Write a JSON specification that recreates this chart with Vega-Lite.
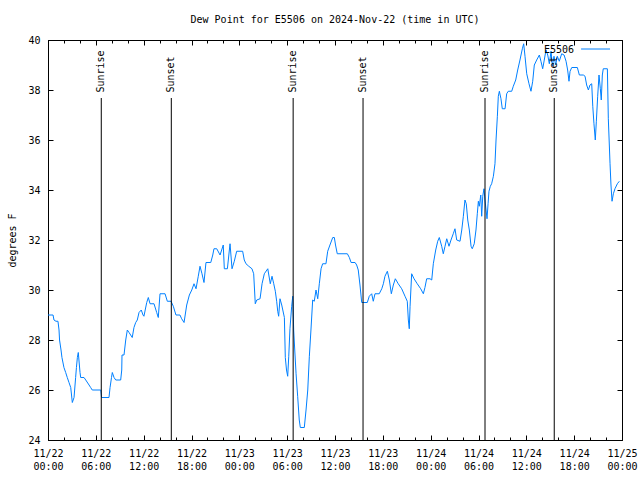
{
  "$schema": "https://vega.github.io/schema/vega-lite/v6.json",
  "width": 574,
  "height": 400,
  "autosize": "none",
  "padding": {"left": 48, "top": 40, "right": 18, "bottom": 40},
  "background": "white",
  "title": {"text": "Dew Point for E5506 on 2024-Nov-22 (time in UTC)", "font": "DejaVu Sans Mono", "fontSize": 10, "fontWeight": "normal", "color": "black", "offset": 10, "anchor": "middle"},
  "config": {
    "view": {"stroke": "black", "strokeWidth": 1},
    "axis": {"domainColor": "black", "domainWidth": 1, "tickColor": "black", "tickWidth": 1, "labelColor": "black", "labelFont": "DejaVu Sans Mono", "labelFontSize": 10, "titleFont": "DejaVu Sans Mono", "titleFontSize": 10, "titleFontWeight": "normal", "titleColor": "black", "grid": false}
  },
  "datasets": {
    "dew": [
      {"time": "2024-11-22T00:00:00Z", "dewpoint": 29.0},
      {"time": "2024-11-22T00:38:00Z", "dewpoint": 29.0},
      {"time": "2024-11-22T00:45:00Z", "dewpoint": 28.8},
      {"time": "2024-11-22T01:00:00Z", "dewpoint": 28.75},
      {"time": "2024-11-22T01:15:00Z", "dewpoint": 28.75},
      {"time": "2024-11-22T01:23:00Z", "dewpoint": 28.4},
      {"time": "2024-11-22T01:27:00Z", "dewpoint": 28.0},
      {"time": "2024-11-22T01:38:00Z", "dewpoint": 27.6},
      {"time": "2024-11-22T01:45:00Z", "dewpoint": 27.3},
      {"time": "2024-11-22T02:00:00Z", "dewpoint": 26.9},
      {"time": "2024-11-22T02:13:00Z", "dewpoint": 26.7},
      {"time": "2024-11-22T02:25:00Z", "dewpoint": 26.5},
      {"time": "2024-11-22T02:38:00Z", "dewpoint": 26.3},
      {"time": "2024-11-22T02:51:00Z", "dewpoint": 26.1},
      {"time": "2024-11-22T03:03:00Z", "dewpoint": 25.5},
      {"time": "2024-11-22T03:16:00Z", "dewpoint": 25.7},
      {"time": "2024-11-22T03:28:00Z", "dewpoint": 26.5},
      {"time": "2024-11-22T03:34:00Z", "dewpoint": 26.9},
      {"time": "2024-11-22T03:41:00Z", "dewpoint": 27.3},
      {"time": "2024-11-22T03:48:00Z", "dewpoint": 27.5},
      {"time": "2024-11-22T04:01:00Z", "dewpoint": 26.7},
      {"time": "2024-11-22T04:06:00Z", "dewpoint": 26.5},
      {"time": "2024-11-22T04:31:00Z", "dewpoint": 26.5},
      {"time": "2024-11-22T04:44:00Z", "dewpoint": 26.4},
      {"time": "2024-11-22T05:09:00Z", "dewpoint": 26.2},
      {"time": "2024-11-22T05:21:00Z", "dewpoint": 26.1},
      {"time": "2024-11-22T05:33:00Z", "dewpoint": 26.0},
      {"time": "2024-11-22T06:37:00Z", "dewpoint": 26.0},
      {"time": "2024-11-22T06:43:00Z", "dewpoint": 25.7},
      {"time": "2024-11-22T07:39:00Z", "dewpoint": 25.7},
      {"time": "2024-11-22T07:47:00Z", "dewpoint": 26.1},
      {"time": "2024-11-22T07:58:00Z", "dewpoint": 26.5},
      {"time": "2024-11-22T08:04:00Z", "dewpoint": 26.7},
      {"time": "2024-11-22T08:17:00Z", "dewpoint": 26.5},
      {"time": "2024-11-22T08:30:00Z", "dewpoint": 26.4},
      {"time": "2024-11-22T09:07:00Z", "dewpoint": 26.4},
      {"time": "2024-11-22T09:15:00Z", "dewpoint": 26.8},
      {"time": "2024-11-22T09:17:00Z", "dewpoint": 27.4},
      {"time": "2024-11-22T09:32:00Z", "dewpoint": 27.4},
      {"time": "2024-11-22T09:45:00Z", "dewpoint": 28.0},
      {"time": "2024-11-22T09:57:00Z", "dewpoint": 28.4},
      {"time": "2024-11-22T10:10:00Z", "dewpoint": 28.3},
      {"time": "2024-11-22T10:34:00Z", "dewpoint": 28.1},
      {"time": "2024-11-22T10:47:00Z", "dewpoint": 28.5},
      {"time": "2024-11-22T11:00:00Z", "dewpoint": 28.7},
      {"time": "2024-11-22T11:12:00Z", "dewpoint": 28.8},
      {"time": "2024-11-22T11:25:00Z", "dewpoint": 29.1},
      {"time": "2024-11-22T11:42:00Z", "dewpoint": 29.2},
      {"time": "2024-11-22T11:55:00Z", "dewpoint": 29.0},
      {"time": "2024-11-22T12:02:00Z", "dewpoint": 28.95},
      {"time": "2024-11-22T12:23:00Z", "dewpoint": 29.5},
      {"time": "2024-11-22T12:35:00Z", "dewpoint": 29.7},
      {"time": "2024-11-22T12:48:00Z", "dewpoint": 29.45},
      {"time": "2024-11-22T13:18:00Z", "dewpoint": 29.45},
      {"time": "2024-11-22T13:38:00Z", "dewpoint": 29.1},
      {"time": "2024-11-22T13:50:00Z", "dewpoint": 28.9},
      {"time": "2024-11-22T14:03:00Z", "dewpoint": 29.85},
      {"time": "2024-11-22T14:41:00Z", "dewpoint": 29.85},
      {"time": "2024-11-22T14:58:00Z", "dewpoint": 29.55},
      {"time": "2024-11-22T15:26:00Z", "dewpoint": 29.55},
      {"time": "2024-11-22T15:43:00Z", "dewpoint": 29.35},
      {"time": "2024-11-22T16:03:00Z", "dewpoint": 29.0},
      {"time": "2024-11-22T16:33:00Z", "dewpoint": 29.0},
      {"time": "2024-11-22T16:46:00Z", "dewpoint": 28.85},
      {"time": "2024-11-22T17:04:00Z", "dewpoint": 28.7},
      {"time": "2024-11-22T17:24:00Z", "dewpoint": 29.4},
      {"time": "2024-11-22T17:44:00Z", "dewpoint": 29.8},
      {"time": "2024-11-22T18:02:00Z", "dewpoint": 30.0},
      {"time": "2024-11-22T18:19:00Z", "dewpoint": 30.25},
      {"time": "2024-11-22T18:34:00Z", "dewpoint": 30.05},
      {"time": "2024-11-22T18:51:00Z", "dewpoint": 30.55},
      {"time": "2024-11-22T19:04:00Z", "dewpoint": 30.95},
      {"time": "2024-11-22T19:19:00Z", "dewpoint": 30.65},
      {"time": "2024-11-22T19:34:00Z", "dewpoint": 30.3},
      {"time": "2024-11-22T19:49:00Z", "dewpoint": 31.1},
      {"time": "2024-11-22T20:25:00Z", "dewpoint": 31.1},
      {"time": "2024-11-22T20:40:00Z", "dewpoint": 31.4},
      {"time": "2024-11-22T20:49:00Z", "dewpoint": 31.65},
      {"time": "2024-11-22T21:10:00Z", "dewpoint": 31.65},
      {"time": "2024-11-22T21:35:00Z", "dewpoint": 31.4},
      {"time": "2024-11-22T21:59:00Z", "dewpoint": 31.8},
      {"time": "2024-11-22T22:07:00Z", "dewpoint": 30.85},
      {"time": "2024-11-22T22:30:00Z", "dewpoint": 30.85},
      {"time": "2024-11-22T22:50:00Z", "dewpoint": 31.85},
      {"time": "2024-11-22T23:05:00Z", "dewpoint": 30.85},
      {"time": "2024-11-22T23:22:00Z", "dewpoint": 31.15},
      {"time": "2024-11-22T23:40:00Z", "dewpoint": 31.55},
      {"time": "2024-11-23T00:25:00Z", "dewpoint": 31.55},
      {"time": "2024-11-23T00:37:00Z", "dewpoint": 31.2},
      {"time": "2024-11-23T00:50:00Z", "dewpoint": 31.05},
      {"time": "2024-11-23T01:11:00Z", "dewpoint": 30.95},
      {"time": "2024-11-23T01:35:00Z", "dewpoint": 30.85},
      {"time": "2024-11-23T01:48:00Z", "dewpoint": 30.65},
      {"time": "2024-11-23T02:00:00Z", "dewpoint": 29.45},
      {"time": "2024-11-23T02:11:00Z", "dewpoint": 29.6},
      {"time": "2024-11-23T02:36:00Z", "dewpoint": 29.65},
      {"time": "2024-11-23T02:51:00Z", "dewpoint": 30.25},
      {"time": "2024-11-23T03:08:00Z", "dewpoint": 30.65},
      {"time": "2024-11-23T03:34:00Z", "dewpoint": 30.85},
      {"time": "2024-11-23T03:53:00Z", "dewpoint": 30.25},
      {"time": "2024-11-23T04:06:00Z", "dewpoint": 30.55},
      {"time": "2024-11-23T04:19:00Z", "dewpoint": 30.25},
      {"time": "2024-11-23T04:31:00Z", "dewpoint": 29.95},
      {"time": "2024-11-23T04:41:00Z", "dewpoint": 29.55},
      {"time": "2024-11-23T04:49:00Z", "dewpoint": 29.15},
      {"time": "2024-11-23T04:56:00Z", "dewpoint": 28.95},
      {"time": "2024-11-23T05:06:00Z", "dewpoint": 29.65},
      {"time": "2024-11-23T05:19:00Z", "dewpoint": 29.4},
      {"time": "2024-11-23T05:39:00Z", "dewpoint": 28.9},
      {"time": "2024-11-23T05:46:00Z", "dewpoint": 27.3},
      {"time": "2024-11-23T05:55:00Z", "dewpoint": 26.8},
      {"time": "2024-11-23T06:04:00Z", "dewpoint": 26.55},
      {"time": "2024-11-23T06:12:00Z", "dewpoint": 27.35},
      {"time": "2024-11-23T06:21:00Z", "dewpoint": 28.45},
      {"time": "2024-11-23T06:34:00Z", "dewpoint": 29.35},
      {"time": "2024-11-23T06:42:00Z", "dewpoint": 29.75},
      {"time": "2024-11-23T06:49:00Z", "dewpoint": 28.4},
      {"time": "2024-11-23T06:57:00Z", "dewpoint": 27.6},
      {"time": "2024-11-23T07:07:00Z", "dewpoint": 26.65},
      {"time": "2024-11-23T07:19:00Z", "dewpoint": 25.75},
      {"time": "2024-11-23T07:31:00Z", "dewpoint": 24.8},
      {"time": "2024-11-23T07:39:00Z", "dewpoint": 24.5},
      {"time": "2024-11-23T08:09:00Z", "dewpoint": 24.5},
      {"time": "2024-11-23T08:22:00Z", "dewpoint": 25.2},
      {"time": "2024-11-23T08:35:00Z", "dewpoint": 26.0},
      {"time": "2024-11-23T08:47:00Z", "dewpoint": 27.35},
      {"time": "2024-11-23T08:59:00Z", "dewpoint": 28.4},
      {"time": "2024-11-23T09:12:00Z", "dewpoint": 29.6},
      {"time": "2024-11-23T09:24:00Z", "dewpoint": 29.55},
      {"time": "2024-11-23T09:37:00Z", "dewpoint": 30.0},
      {"time": "2024-11-23T09:50:00Z", "dewpoint": 29.65},
      {"time": "2024-11-23T10:02:00Z", "dewpoint": 30.25},
      {"time": "2024-11-23T10:15:00Z", "dewpoint": 30.85},
      {"time": "2024-11-23T10:27:00Z", "dewpoint": 31.05},
      {"time": "2024-11-23T10:52:00Z", "dewpoint": 31.05},
      {"time": "2024-11-23T11:05:00Z", "dewpoint": 31.55},
      {"time": "2024-11-23T11:22:00Z", "dewpoint": 31.8},
      {"time": "2024-11-23T11:43:00Z", "dewpoint": 32.1},
      {"time": "2024-11-23T11:55:00Z", "dewpoint": 32.1},
      {"time": "2024-11-23T12:04:00Z", "dewpoint": 31.8},
      {"time": "2024-11-23T12:17:00Z", "dewpoint": 31.45},
      {"time": "2024-11-23T13:33:00Z", "dewpoint": 31.45},
      {"time": "2024-11-23T13:48:00Z", "dewpoint": 31.3},
      {"time": "2024-11-23T14:01:00Z", "dewpoint": 31.1},
      {"time": "2024-11-23T14:31:00Z", "dewpoint": 31.1},
      {"time": "2024-11-23T14:43:00Z", "dewpoint": 31.0},
      {"time": "2024-11-23T14:55:00Z", "dewpoint": 30.8},
      {"time": "2024-11-23T15:08:00Z", "dewpoint": 30.2},
      {"time": "2024-11-23T15:21:00Z", "dewpoint": 29.5},
      {"time": "2024-11-23T16:03:00Z", "dewpoint": 29.5},
      {"time": "2024-11-23T16:18:00Z", "dewpoint": 29.75},
      {"time": "2024-11-23T16:36:00Z", "dewpoint": 29.85},
      {"time": "2024-11-23T16:48:00Z", "dewpoint": 29.55},
      {"time": "2024-11-23T17:01:00Z", "dewpoint": 29.85},
      {"time": "2024-11-23T17:33:00Z", "dewpoint": 29.85},
      {"time": "2024-11-23T17:52:00Z", "dewpoint": 30.05},
      {"time": "2024-11-23T18:04:00Z", "dewpoint": 30.25},
      {"time": "2024-11-23T18:16:00Z", "dewpoint": 30.55},
      {"time": "2024-11-23T18:34:00Z", "dewpoint": 30.75},
      {"time": "2024-11-23T18:49:00Z", "dewpoint": 30.4},
      {"time": "2024-11-23T19:04:00Z", "dewpoint": 29.85},
      {"time": "2024-11-23T19:19:00Z", "dewpoint": 30.2},
      {"time": "2024-11-23T19:34:00Z", "dewpoint": 30.45},
      {"time": "2024-11-23T19:56:00Z", "dewpoint": 30.25},
      {"time": "2024-11-23T20:22:00Z", "dewpoint": 30.05},
      {"time": "2024-11-23T20:47:00Z", "dewpoint": 29.75},
      {"time": "2024-11-23T21:04:00Z", "dewpoint": 29.55},
      {"time": "2024-11-23T21:12:00Z", "dewpoint": 28.8},
      {"time": "2024-11-23T21:19:00Z", "dewpoint": 28.45},
      {"time": "2024-11-23T21:25:00Z", "dewpoint": 29.35},
      {"time": "2024-11-23T21:37:00Z", "dewpoint": 30.65},
      {"time": "2024-11-23T21:55:00Z", "dewpoint": 30.45},
      {"time": "2024-11-23T22:19:00Z", "dewpoint": 30.25},
      {"time": "2024-11-23T22:45:00Z", "dewpoint": 30.05},
      {"time": "2024-11-23T23:05:00Z", "dewpoint": 29.85},
      {"time": "2024-11-23T23:17:00Z", "dewpoint": 30.1},
      {"time": "2024-11-23T23:30:00Z", "dewpoint": 30.45},
      {"time": "2024-11-23T23:55:00Z", "dewpoint": 30.45},
      {"time": "2024-11-24T00:08:00Z", "dewpoint": 30.4},
      {"time": "2024-11-24T00:20:00Z", "dewpoint": 31.05},
      {"time": "2024-11-24T00:38:00Z", "dewpoint": 31.6},
      {"time": "2024-11-24T00:53:00Z", "dewpoint": 31.95},
      {"time": "2024-11-24T01:05:00Z", "dewpoint": 32.1},
      {"time": "2024-11-24T01:23:00Z", "dewpoint": 31.75},
      {"time": "2024-11-24T01:35:00Z", "dewpoint": 31.45},
      {"time": "2024-11-24T01:48:00Z", "dewpoint": 31.75},
      {"time": "2024-11-24T02:01:00Z", "dewpoint": 32.05},
      {"time": "2024-11-24T02:18:00Z", "dewpoint": 31.75},
      {"time": "2024-11-24T02:33:00Z", "dewpoint": 32.0},
      {"time": "2024-11-24T02:50:00Z", "dewpoint": 32.25},
      {"time": "2024-11-24T03:03:00Z", "dewpoint": 32.45},
      {"time": "2024-11-24T03:16:00Z", "dewpoint": 32.0},
      {"time": "2024-11-24T03:41:00Z", "dewpoint": 31.95},
      {"time": "2024-11-24T03:54:00Z", "dewpoint": 32.4},
      {"time": "2024-11-24T04:06:00Z", "dewpoint": 32.95},
      {"time": "2024-11-24T04:18:00Z", "dewpoint": 33.6},
      {"time": "2024-11-24T04:28:00Z", "dewpoint": 33.45},
      {"time": "2024-11-24T04:39:00Z", "dewpoint": 32.8},
      {"time": "2024-11-24T04:51:00Z", "dewpoint": 32.4},
      {"time": "2024-11-24T05:04:00Z", "dewpoint": 31.75},
      {"time": "2024-11-24T05:13:00Z", "dewpoint": 31.65},
      {"time": "2024-11-24T05:28:00Z", "dewpoint": 31.85},
      {"time": "2024-11-24T05:41:00Z", "dewpoint": 32.4},
      {"time": "2024-11-24T05:51:00Z", "dewpoint": 33.05},
      {"time": "2024-11-24T05:59:00Z", "dewpoint": 33.55},
      {"time": "2024-11-24T06:06:00Z", "dewpoint": 33.35},
      {"time": "2024-11-24T06:17:00Z", "dewpoint": 33.8},
      {"time": "2024-11-24T06:24:00Z", "dewpoint": 32.95},
      {"time": "2024-11-24T06:32:00Z", "dewpoint": 33.75},
      {"time": "2024-11-24T06:41:00Z", "dewpoint": 34.05},
      {"time": "2024-11-24T06:49:00Z", "dewpoint": 33.6},
      {"time": "2024-11-24T06:57:00Z", "dewpoint": 33.2},
      {"time": "2024-11-24T07:04:00Z", "dewpoint": 32.85},
      {"time": "2024-11-24T07:12:00Z", "dewpoint": 33.45},
      {"time": "2024-11-24T07:19:00Z", "dewpoint": 33.95},
      {"time": "2024-11-24T07:29:00Z", "dewpoint": 34.15},
      {"time": "2024-11-24T07:39:00Z", "dewpoint": 34.25},
      {"time": "2024-11-24T07:52:00Z", "dewpoint": 34.55},
      {"time": "2024-11-24T08:04:00Z", "dewpoint": 35.05},
      {"time": "2024-11-24T08:12:00Z", "dewpoint": 36.0},
      {"time": "2024-11-24T08:22:00Z", "dewpoint": 36.95},
      {"time": "2024-11-24T08:29:00Z", "dewpoint": 37.75},
      {"time": "2024-11-24T08:37:00Z", "dewpoint": 37.95},
      {"time": "2024-11-24T08:49:00Z", "dewpoint": 37.65},
      {"time": "2024-11-24T08:59:00Z", "dewpoint": 37.25},
      {"time": "2024-11-24T09:20:00Z", "dewpoint": 37.25},
      {"time": "2024-11-24T09:32:00Z", "dewpoint": 37.85},
      {"time": "2024-11-24T09:44:00Z", "dewpoint": 37.95},
      {"time": "2024-11-24T10:10:00Z", "dewpoint": 37.95},
      {"time": "2024-11-24T10:22:00Z", "dewpoint": 38.15},
      {"time": "2024-11-24T10:40:00Z", "dewpoint": 38.4},
      {"time": "2024-11-24T10:55:00Z", "dewpoint": 38.8},
      {"time": "2024-11-24T11:12:00Z", "dewpoint": 39.2},
      {"time": "2024-11-24T11:30:00Z", "dewpoint": 39.65},
      {"time": "2024-11-24T11:40:00Z", "dewpoint": 39.85},
      {"time": "2024-11-24T11:50:00Z", "dewpoint": 39.35},
      {"time": "2024-11-24T12:03:00Z", "dewpoint": 38.65},
      {"time": "2024-11-24T12:20:00Z", "dewpoint": 38.25},
      {"time": "2024-11-24T12:35:00Z", "dewpoint": 37.95},
      {"time": "2024-11-24T12:48:00Z", "dewpoint": 38.35},
      {"time": "2024-11-24T13:00:00Z", "dewpoint": 39.0},
      {"time": "2024-11-24T13:18:00Z", "dewpoint": 39.2},
      {"time": "2024-11-24T13:38:00Z", "dewpoint": 39.4},
      {"time": "2024-11-24T13:50:00Z", "dewpoint": 39.15},
      {"time": "2024-11-24T14:03:00Z", "dewpoint": 38.85},
      {"time": "2024-11-24T14:15:00Z", "dewpoint": 39.2},
      {"time": "2024-11-24T14:28:00Z", "dewpoint": 39.6},
      {"time": "2024-11-24T14:41:00Z", "dewpoint": 39.4},
      {"time": "2024-11-24T14:53:00Z", "dewpoint": 39.05},
      {"time": "2024-11-24T15:06:00Z", "dewpoint": 39.55},
      {"time": "2024-11-24T15:16:00Z", "dewpoint": 38.95},
      {"time": "2024-11-24T15:28:00Z", "dewpoint": 39.35},
      {"time": "2024-11-24T15:41:00Z", "dewpoint": 39.0},
      {"time": "2024-11-24T15:53:00Z", "dewpoint": 39.35},
      {"time": "2024-11-24T16:08:00Z", "dewpoint": 39.15},
      {"time": "2024-11-24T16:26:00Z", "dewpoint": 39.45},
      {"time": "2024-11-24T16:44:00Z", "dewpoint": 39.4},
      {"time": "2024-11-24T16:59:00Z", "dewpoint": 39.15},
      {"time": "2024-11-24T17:11:00Z", "dewpoint": 38.8},
      {"time": "2024-11-24T17:21:00Z", "dewpoint": 38.35},
      {"time": "2024-11-24T17:29:00Z", "dewpoint": 38.75},
      {"time": "2024-11-24T17:42:00Z", "dewpoint": 38.9},
      {"time": "2024-11-24T18:24:00Z", "dewpoint": 38.9},
      {"time": "2024-11-24T18:39:00Z", "dewpoint": 38.6},
      {"time": "2024-11-24T19:09:00Z", "dewpoint": 38.6},
      {"time": "2024-11-24T19:22:00Z", "dewpoint": 38.55},
      {"time": "2024-11-24T19:34:00Z", "dewpoint": 38.2},
      {"time": "2024-11-24T19:47:00Z", "dewpoint": 38.0},
      {"time": "2024-11-24T19:59:00Z", "dewpoint": 38.2},
      {"time": "2024-11-24T20:12:00Z", "dewpoint": 38.25},
      {"time": "2024-11-24T20:20:00Z", "dewpoint": 37.35},
      {"time": "2024-11-24T20:29:00Z", "dewpoint": 36.65},
      {"time": "2024-11-24T20:39:00Z", "dewpoint": 36.0},
      {"time": "2024-11-24T20:47:00Z", "dewpoint": 36.75},
      {"time": "2024-11-24T20:57:00Z", "dewpoint": 37.75},
      {"time": "2024-11-24T21:07:00Z", "dewpoint": 38.6},
      {"time": "2024-11-24T21:17:00Z", "dewpoint": 38.05},
      {"time": "2024-11-24T21:24:00Z", "dewpoint": 37.6},
      {"time": "2024-11-24T21:32:00Z", "dewpoint": 38.6},
      {"time": "2024-11-24T21:39:00Z", "dewpoint": 38.85},
      {"time": "2024-11-24T22:10:00Z", "dewpoint": 38.85},
      {"time": "2024-11-24T22:17:00Z", "dewpoint": 36.85},
      {"time": "2024-11-24T22:30:00Z", "dewpoint": 35.05},
      {"time": "2024-11-24T22:37:00Z", "dewpoint": 34.2},
      {"time": "2024-11-24T22:45:00Z", "dewpoint": 33.55},
      {"time": "2024-11-24T22:55:00Z", "dewpoint": 33.85},
      {"time": "2024-11-24T23:07:00Z", "dewpoint": 34.05},
      {"time": "2024-11-24T23:25:00Z", "dewpoint": 34.25},
      {"time": "2024-11-24T23:40:00Z", "dewpoint": 34.35}
    ],
    "sun": [
      {"time": "2024-11-22T06:41:00Z", "event": "Sunrise"},
      {"time": "2024-11-22T15:28:00Z", "event": "Sunset"},
      {"time": "2024-11-23T06:45:00Z", "event": "Sunrise"},
      {"time": "2024-11-23T15:31:00Z", "event": "Sunset"},
      {"time": "2024-11-24T06:49:00Z", "event": "Sunrise"},
      {"time": "2024-11-24T15:30:00Z", "event": "Sunset"}
    ],
    "key": [
      {"station": "E5506"}
    ]
  },
  "resolve": {"axis": {"x": "independent", "y": "independent"}},
  "layer": [
    {
      "data": {"name": "dew"},
      "mark": {"type": "line", "color": "#0080ff", "strokeWidth": 1},
      "encoding": {
        "x": {
          "field": "time", "type": "temporal",
          "scale": {"type": "utc", "nice": false, "domain": [{"year": 2024, "month": 11, "date": 22, "utc": true}, {"year": 2024, "month": 11, "date": 25, "utc": true}]},
          "axis": {
            "orient": "bottom", "title": null,
            "values": [
              {"year": 2024, "month": 11, "date": 22, "hours": 0, "utc": true},
              {"year": 2024, "month": 11, "date": 22, "hours": 6, "utc": true},
              {"year": 2024, "month": 11, "date": 22, "hours": 12, "utc": true},
              {"year": 2024, "month": 11, "date": 22, "hours": 18, "utc": true},
              {"year": 2024, "month": 11, "date": 23, "hours": 0, "utc": true},
              {"year": 2024, "month": 11, "date": 23, "hours": 6, "utc": true},
              {"year": 2024, "month": 11, "date": 23, "hours": 12, "utc": true},
              {"year": 2024, "month": 11, "date": 23, "hours": 18, "utc": true},
              {"year": 2024, "month": 11, "date": 24, "hours": 0, "utc": true},
              {"year": 2024, "month": 11, "date": 24, "hours": 6, "utc": true},
              {"year": 2024, "month": 11, "date": 24, "hours": 12, "utc": true},
              {"year": 2024, "month": 11, "date": 24, "hours": 18, "utc": true},
              {"year": 2024, "month": 11, "date": 25, "hours": 0, "utc": true}
            ],
            "tickSize": -5,
            "labelExpr": "[utcFormat(datum.value, '%m/%d'), utcFormat(datum.value, '%H:%M')]",
            "labelPadding": 13, "labelBaseline": "top", "labelLineHeight": 13,
            "labelOverlap": false, "labelFlush": false, "labelBound": false
          }
        },
        "y": {
          "field": "dewpoint", "type": "quantitative",
          "scale": {"domain": [24, 40], "nice": false, "zero": false},
          "axis": {"orient": "left", "title": "degrees F", "values": [24, 26, 28, 30, 32, 34, 36, 38, 40], "format": "d", "tickSize": -5, "labelPadding": 13, "titlePadding": 10}
        }
      }
    },
    {
      "data": {"name": "sun"},
      "mark": {"type": "rule", "color": "black", "strokeWidth": 1},
      "encoding": {
        "x": {
          "field": "time", "type": "temporal",
          "scale": {"type": "utc", "nice": false, "domain": [{"year": 2024, "month": 11, "date": 22, "utc": true}, {"year": 2024, "month": 11, "date": 25, "utc": true}]},
          "axis": {
            "orient": "top", "title": null, "labels": false,
            "values": [
              {"year": 2024, "month": 11, "date": 22, "hours": 0, "utc": true},
              {"year": 2024, "month": 11, "date": 22, "hours": 6, "utc": true},
              {"year": 2024, "month": 11, "date": 22, "hours": 12, "utc": true},
              {"year": 2024, "month": 11, "date": 22, "hours": 18, "utc": true},
              {"year": 2024, "month": 11, "date": 23, "hours": 0, "utc": true},
              {"year": 2024, "month": 11, "date": 23, "hours": 6, "utc": true},
              {"year": 2024, "month": 11, "date": 23, "hours": 12, "utc": true},
              {"year": 2024, "month": 11, "date": 23, "hours": 18, "utc": true},
              {"year": 2024, "month": 11, "date": 24, "hours": 0, "utc": true},
              {"year": 2024, "month": 11, "date": 24, "hours": 6, "utc": true},
              {"year": 2024, "month": 11, "date": 24, "hours": 12, "utc": true},
              {"year": 2024, "month": 11, "date": 24, "hours": 18, "utc": true},
              {"year": 2024, "month": 11, "date": 25, "hours": 0, "utc": true}
            ],
            "tickSize": -5
          }
        },
        "y": {
          "datum": 24, "type": "quantitative",
          "scale": {"domain": [24, 40], "nice": false, "zero": false},
          "axis": {"orient": "right", "title": null, "labels": false, "values": [24, 26, 28, 30, 32, 34, 36, 38, 40], "tickSize": -5}
        },
        "y2": {"datum": 37.68}
      }
    },
    {
      "data": {"name": "sun"},
      "mark": {"type": "text", "angle": 270, "align": "left", "baseline": "middle", "font": "DejaVu Sans Mono", "fontSize": 10, "color": "black"},
      "encoding": {
        "x": {
          "field": "time", "type": "temporal",
          "scale": {"type": "utc", "nice": false, "domain": [{"year": 2024, "month": 11, "date": 22, "utc": true}, {"year": 2024, "month": 11, "date": 25, "utc": true}]},
          "axis": {
            "orient": "bottom", "title": null, "labels": false, "domain": false, "tickSize": -3,
            "values": [
              {"year": 2024, "month": 11, "date": 22, "hours": 2, "utc": true},
              {"year": 2024, "month": 11, "date": 22, "hours": 4, "utc": true},
              {"year": 2024, "month": 11, "date": 22, "hours": 8, "utc": true},
              {"year": 2024, "month": 11, "date": 22, "hours": 10, "utc": true},
              {"year": 2024, "month": 11, "date": 22, "hours": 14, "utc": true},
              {"year": 2024, "month": 11, "date": 22, "hours": 16, "utc": true},
              {"year": 2024, "month": 11, "date": 22, "hours": 20, "utc": true},
              {"year": 2024, "month": 11, "date": 22, "hours": 22, "utc": true},
              {"year": 2024, "month": 11, "date": 23, "hours": 2, "utc": true},
              {"year": 2024, "month": 11, "date": 23, "hours": 4, "utc": true},
              {"year": 2024, "month": 11, "date": 23, "hours": 8, "utc": true},
              {"year": 2024, "month": 11, "date": 23, "hours": 10, "utc": true},
              {"year": 2024, "month": 11, "date": 23, "hours": 14, "utc": true},
              {"year": 2024, "month": 11, "date": 23, "hours": 16, "utc": true},
              {"year": 2024, "month": 11, "date": 23, "hours": 20, "utc": true},
              {"year": 2024, "month": 11, "date": 23, "hours": 22, "utc": true},
              {"year": 2024, "month": 11, "date": 24, "hours": 2, "utc": true},
              {"year": 2024, "month": 11, "date": 24, "hours": 4, "utc": true},
              {"year": 2024, "month": 11, "date": 24, "hours": 8, "utc": true},
              {"year": 2024, "month": 11, "date": 24, "hours": 10, "utc": true},
              {"year": 2024, "month": 11, "date": 24, "hours": 14, "utc": true},
              {"year": 2024, "month": 11, "date": 24, "hours": 16, "utc": true},
              {"year": 2024, "month": 11, "date": 24, "hours": 20, "utc": true},
              {"year": 2024, "month": 11, "date": 24, "hours": 22, "utc": true}
            ]
          }
        },
        "y": {"datum": 37.9, "type": "quantitative", "scale": {"domain": [24, 40], "nice": false, "zero": false}, "axis": null},
        "text": {"field": "event"}
      }
    },
    {
      "data": {"name": "key"},
      "mark": {"type": "text", "align": "right", "baseline": "middle", "font": "DejaVu Sans Mono", "fontSize": 10, "color": "black"},
      "encoding": {
        "x": {
          "datum": {"year": 2024, "month": 11, "date": 24, "hours": 17, "minutes": 59, "utc": true}, "type": "temporal",
          "scale": {"type": "utc", "nice": false, "domain": [{"year": 2024, "month": 11, "date": 22, "utc": true}, {"year": 2024, "month": 11, "date": 25, "utc": true}]},
          "axis": {
            "orient": "top", "title": null, "labels": false, "domain": false, "tickSize": -3,
            "values": [
              {"year": 2024, "month": 11, "date": 22, "hours": 2, "utc": true},
              {"year": 2024, "month": 11, "date": 22, "hours": 4, "utc": true},
              {"year": 2024, "month": 11, "date": 22, "hours": 8, "utc": true},
              {"year": 2024, "month": 11, "date": 22, "hours": 10, "utc": true},
              {"year": 2024, "month": 11, "date": 22, "hours": 14, "utc": true},
              {"year": 2024, "month": 11, "date": 22, "hours": 16, "utc": true},
              {"year": 2024, "month": 11, "date": 22, "hours": 20, "utc": true},
              {"year": 2024, "month": 11, "date": 22, "hours": 22, "utc": true},
              {"year": 2024, "month": 11, "date": 23, "hours": 2, "utc": true},
              {"year": 2024, "month": 11, "date": 23, "hours": 4, "utc": true},
              {"year": 2024, "month": 11, "date": 23, "hours": 8, "utc": true},
              {"year": 2024, "month": 11, "date": 23, "hours": 10, "utc": true},
              {"year": 2024, "month": 11, "date": 23, "hours": 14, "utc": true},
              {"year": 2024, "month": 11, "date": 23, "hours": 16, "utc": true},
              {"year": 2024, "month": 11, "date": 23, "hours": 20, "utc": true},
              {"year": 2024, "month": 11, "date": 23, "hours": 22, "utc": true},
              {"year": 2024, "month": 11, "date": 24, "hours": 2, "utc": true},
              {"year": 2024, "month": 11, "date": 24, "hours": 4, "utc": true},
              {"year": 2024, "month": 11, "date": 24, "hours": 8, "utc": true},
              {"year": 2024, "month": 11, "date": 24, "hours": 10, "utc": true},
              {"year": 2024, "month": 11, "date": 24, "hours": 14, "utc": true},
              {"year": 2024, "month": 11, "date": 24, "hours": 16, "utc": true},
              {"year": 2024, "month": 11, "date": 24, "hours": 20, "utc": true},
              {"year": 2024, "month": 11, "date": 24, "hours": 22, "utc": true}
            ]
          }
        },
        "y": {"datum": 39.6, "type": "quantitative", "scale": {"domain": [24, 40], "nice": false, "zero": false}, "axis": null},
        "text": {"field": "station"}
      }
    },
    {
      "data": {"name": "key"},
      "mark": {"type": "rule", "color": "#0080ff", "strokeWidth": 1},
      "encoding": {
        "x": {"datum": {"year": 2024, "month": 11, "date": 24, "hours": 18, "minutes": 52, "utc": true}, "type": "temporal", "scale": {"type": "utc", "nice": false, "domain": [{"year": 2024, "month": 11, "date": 22, "utc": true}, {"year": 2024, "month": 11, "date": 25, "utc": true}]}, "axis": null},
        "x2": {"datum": {"year": 2024, "month": 11, "date": 24, "hours": 22, "minutes": 30, "utc": true}},
        "y": {"datum": 39.64, "type": "quantitative", "scale": {"domain": [24, 40], "nice": false, "zero": false}, "axis": null}
      }
    }
  ]
}
